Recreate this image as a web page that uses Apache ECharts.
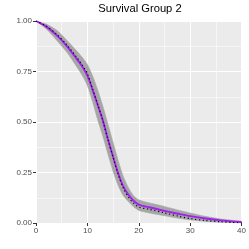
<!DOCTYPE html>
<html><head><meta charset="utf-8">
<script src="https://cdn.jsdelivr.net/npm/echarts@6/dist/echarts.min.js"></script>
<style>html,body{margin:0;padding:0;background:#fff}#c{width:249px;height:249px}</style>
</head><body><div id="c"></div>
<script>
var times   = [0,2,4,6,8,9,10,11,12,13,14,15,16,17,18,19,20,22,25,28,30,33,36,40];
var fitted  = [1.0,0.972,0.93,0.876,0.81,0.775,0.73,0.66,0.585,0.508,0.415,0.328,0.245,0.18,0.14,0.11,0.091,0.078,0.06,0.044,0.034,0.022,0.013,0.005];
var observed= [1.0,0.975,0.935,0.882,0.818,0.782,0.74,0.665,0.588,0.508,0.413,0.325,0.24,0.172,0.128,0.098,0.079,0.068,0.05,0.032,0.022,0.012,0.006,0.0];
var upper   = [1.0,0.985,0.955,0.905,0.85,0.82,0.785,0.73,0.66,0.58,0.49,0.40,0.31,0.23,0.175,0.135,0.115,0.10,0.082,0.062,0.05,0.033,0.02,0.008];
var lower   = [1.0,0.96,0.905,0.845,0.77,0.73,0.68,0.60,0.51,0.43,0.34,0.255,0.185,0.135,0.105,0.08,0.062,0.05,0.036,0.022,0.015,0.008,0.003,0.0];
var xTicks = [0,10,20,30,40];
var yTicks = ['0.00','0.25','0.50','0.75','1.00'];
var titleText = 'Survival Group 2';

function pairs(v){return times.map(function(t,i){return [t,v[i]];});}
var bandData = times.map(function(t,i){return [t, lower[i], upper[i]];});

var chart = echarts.init(document.getElementById('c'), null, {renderer:'canvas'});
var font = 'Liberation Sans, Arial, sans-serif';

function renderBand(params, api){
  if (params.dataIndex !== 0) return null;
  var up = [], lo = [];
  for (var i = 0; i < bandData.length; i++) {
    up.push(api.coord([bandData[i][0], bandData[i][2]]));
    lo.push(api.coord([bandData[i][0], bandData[i][1]]));
  }
  return {
    type:'group',
    children:[
      {type:'polyline',shape:{points:up,smooth:0.3},style:{fill:null,stroke:'#A6A6A6',lineWidth:0}},
      {type:'polygon',shape:{points:up.concat(lo.reverse()),smooth:0.25},
        style:{fill:'#A6A6A6',stroke:'#A6A6A6',lineWidth:0.5}}
    ]
  };
}

chart.setOption({
  animation:false,
  graphic:[{type:'text',x:140,y:9,
    style:{text:titleText,textAlign:'center',textVerticalAlign:'middle',
      font:'11.2px '+font,fill:'#000'}}],
  grid:{left:36,top:21,width:208,height:202,show:true,backgroundColor:'#EBEBEB',borderWidth:0},
  xAxis:{type:'value',min:0,max:40,interval:10,
    axisLine:{show:false},
    axisTick:{show:true,length:3,lineStyle:{color:'#333',width:1}},
    axisLabel:{margin:4,fontFamily:font,fontSize:8,color:'#4D4D4D',
      formatter:function(v){return xTicks.indexOf(v)>=0?String(v):'';}},
    splitLine:{show:true,lineStyle:{color:'#fff',width:1.1}},
    minorTick:{show:false,splitNumber:2},
    minorSplitLine:{show:true,lineStyle:{color:'#fff',width:0.55}}},
  yAxis:{type:'value',min:0,max:1,interval:0.25,
    axisLine:{show:false},
    axisTick:{show:true,length:3,lineStyle:{color:'#333',width:1}},
    axisLabel:{margin:4,fontFamily:font,fontSize:8,color:'#4D4D4D',
      formatter:function(v){return yTicks[Math.round(v/0.25)];}},
    splitLine:{show:true,lineStyle:{color:'#fff',width:1.1}},
    minorTick:{show:false,splitNumber:2},
    minorSplitLine:{show:true,lineStyle:{color:'#fff',width:0.55}}},
  series:[
    {type:'custom',data:bandData,renderItem:renderBand,clip:true,z:2,
      encode:{x:0,y:[1,2]}},
    {type:'line',data:pairs(fitted),smooth:0.3,symbol:'none',
      lineStyle:{color:'#A020F0',width:1.9},z:3},
    {type:'line',data:pairs(observed),smooth:0.3,symbol:'none',
      lineStyle:{color:'#000',width:1.1,type:[1.2,2.6]},z:4}
  ]
});
</script></body></html>
